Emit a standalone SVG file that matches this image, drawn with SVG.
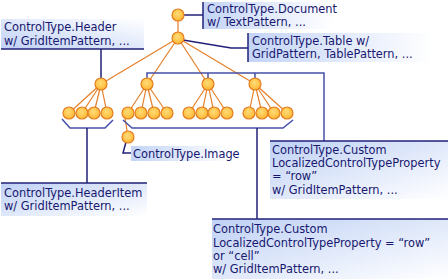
<svg xmlns="http://www.w3.org/2000/svg" width="448" height="279" viewBox="0 0 448 279">
<defs>
<radialGradient id="nodeFill" cx="0.45" cy="0.4" r="0.6">
<stop offset="0" stop-color="#ffdc78"/>
<stop offset="1" stop-color="#ffb733"/>
</radialGradient>
<linearGradient id="gH" x1="0" y1="0" x2="1" y2="0">
<stop offset="0" stop-color="#c3d4f6"/>
<stop offset="1" stop-color="#ffffff"/>
</linearGradient>
<linearGradient id="gD" x1="0" y1="0" x2="1" y2="1">
<stop offset="0" stop-color="#bfd1f5"/>
<stop offset="1" stop-color="#ffffff"/>
</linearGradient>
<linearGradient id="gU" x1="0" y1="1" x2="1" y2="0">
<stop offset="0" stop-color="#bfd1f5"/>
<stop offset="1" stop-color="#ffffff"/>
</linearGradient>
</defs>
<style>
.n{fill:url(#nodeFill);stroke:#e47d1e;stroke-width:1.2}
.o{stroke:#e57f28;stroke-width:1.2;fill:none}
.c{stroke:#202078;stroke-width:1.5;fill:none}
.b{stroke:#4650a8;stroke-width:1.5;fill:none}
.t{font-family:"DejaVu Sans",Verdana,sans-serif;font-size:11.4px;fill:#181870}
</style>
<rect width="448" height="279" fill="#ffffff"/>
<g id="connectors">
<!-- orange tree edges -->
<line class="o" x1="178" y1="15" x2="178" y2="38"/>
<line class="o" x1="178" y1="38" x2="101" y2="84"/>
<line class="o" x1="178" y1="38" x2="147" y2="84"/>
<line class="o" x1="178" y1="38" x2="208" y2="84"/>
<line class="o" x1="178" y1="38" x2="255" y2="84"/>
<line class="o" x1="101" y1="84" x2="69" y2="113"/>
<line class="o" x1="101" y1="84" x2="82" y2="113"/>
<line class="o" x1="101" y1="84" x2="94" y2="113"/>
<line class="o" x1="101" y1="84" x2="107" y2="113"/>
<line class="o" x1="147" y1="84" x2="128" y2="113"/>
<line class="o" x1="147" y1="84" x2="141" y2="113"/>
<line class="o" x1="147" y1="84" x2="154" y2="113"/>
<line class="o" x1="147" y1="84" x2="167" y2="113"/>
<line class="o" x1="208" y1="84" x2="189" y2="113"/>
<line class="o" x1="208" y1="84" x2="202" y2="113"/>
<line class="o" x1="208" y1="84" x2="214" y2="113"/>
<line class="o" x1="208" y1="84" x2="227" y2="113"/>
<line class="o" x1="255" y1="84" x2="249" y2="113"/>
<line class="o" x1="255" y1="84" x2="262" y2="113"/>
<line class="o" x1="255" y1="84" x2="274" y2="113"/>
<line class="o" x1="255" y1="84" x2="287" y2="113"/>
<line class="o" x1="125" y1="118" x2="128" y2="137"/>
<!-- label connectors -->
<polyline class="c" points="184,15 203,15"/>
<polyline class="c" points="183,40 231,48 248,48"/>
<polyline class="c" points="101,49 101,79"/>
<polyline class="b" points="147,79 147,73 324,73 324,141"/>
<line class="b" x1="208" y1="73" x2="208" y2="79"/>
<line class="b" x1="255" y1="73" x2="255" y2="79"/>
<polyline class="b" points="62,119 70,128 105,128 113,120"/>
<polyline class="b" points="123,120 132,128 283,128 293,120"/>
<line class="c" x1="87" y1="128" x2="87" y2="183"/>
<line class="c" x1="257" y1="128" x2="257" y2="219"/>
<polyline class="c" points="126,142 123,153 132,153"/>
</g>
<g id="n-document"><circle class="n" cx="178" cy="15" r="6"/></g>
<g id="n-table"><circle class="n" cx="178" cy="38" r="6"/></g>
<g id="n-header"><circle class="n" cx="101" cy="84" r="6"/></g>
<g id="n-row1"><circle class="n" cx="147" cy="84" r="6"/></g>
<g id="n-row2"><circle class="n" cx="208" cy="84" r="6"/></g>
<g id="n-row3"><circle class="n" cx="255" cy="84" r="6"/></g>
<g id="n-leaves">
<circle class="n" cx="69" cy="113" r="6"/><circle class="n" cx="82" cy="113" r="6"/><circle class="n" cx="94" cy="113" r="6"/><circle class="n" cx="107" cy="113" r="6"/>
<circle class="n" cx="128" cy="113" r="6"/><circle class="n" cx="141" cy="113" r="6"/><circle class="n" cx="154" cy="113" r="6"/><circle class="n" cx="167" cy="113" r="6"/>
<circle class="n" cx="189" cy="113" r="6"/><circle class="n" cx="202" cy="113" r="6"/><circle class="n" cx="214" cy="113" r="6"/><circle class="n" cx="227" cy="113" r="6"/>
<circle class="n" cx="249" cy="113" r="6"/><circle class="n" cx="262" cy="113" r="6"/><circle class="n" cx="274" cy="113" r="6"/><circle class="n" cx="287" cy="113" r="6"/>
</g>
<g id="n-image"><circle class="n" cx="128" cy="137" r="6"/></g>
<g id="l-document">
<rect x="203" y="2" width="130" height="27" fill="url(#gH)"/>
<line class="c" x1="203" y1="2" x2="203" y2="29"/>
<text class="t" x="207" y="13">ControlType.Document</text>
<text class="t" x="207" y="26">w/ TextPattern, ...</text>
</g>
<g id="l-table">
<rect x="248" y="33" width="185" height="29" fill="url(#gH)"/>
<line class="c" x1="248" y1="33" x2="248" y2="62"/>
<text class="t" x="252" y="45">ControlType.Table w/</text>
<text class="t" x="252" y="58">GridPattern, TablePattern, ...</text>
</g>
<g id="l-header">
<rect x="1" y="19" width="143" height="30" fill="url(#gU)"/>
<line class="c" x1="1" y1="49" x2="144" y2="49"/>
<text class="t" x="4" y="31">ControlType.Header</text>
<text class="t" x="4" y="45">w/ GridItemPattern, ...</text>
</g>
<g id="l-image">
<rect x="131" y="146" width="100" height="15" fill="url(#gH)"/>
<text class="t" x="133" y="158">ControlType.Image</text>
</g>
<g id="l-headeritem">
<rect x="1" y="183" width="146" height="33" fill="url(#gD)"/>
<line class="c" x1="1" y1="183" x2="147" y2="183"/>
<text class="t" x="4" y="197">ControlType.HeaderItem</text>
<text class="t" x="4" y="210">w/ GridItemPattern, ...</text>
</g>
<g id="l-custom-row">
<rect x="270" y="141" width="178" height="58" fill="url(#gD)"/>
<line class="c" x1="270" y1="141" x2="448" y2="141"/>
<text class="t" x="272" y="154">ControlType.Custom</text>
<text class="t" x="272" y="167">LocalizedControlTypeProperty</text>
<text class="t" x="272" y="180">= “row”</text>
<text class="t" x="272" y="194">w/ GridItemPattern, ...</text>
</g>
<g id="l-custom-cell">
<rect x="212" y="219" width="236" height="60" fill="url(#gD)"/>
<line class="c" x1="212" y1="219" x2="448" y2="219"/>
<text class="t" x="213" y="233">ControlType.Custom</text>
<text class="t" x="213" y="247">LocalizedControlTypeProperty = “row”</text>
<text class="t" x="213" y="260">or “cell”</text>
<text class="t" x="213" y="273">w/ GridItemPattern, ...</text>
</g>
</svg>
